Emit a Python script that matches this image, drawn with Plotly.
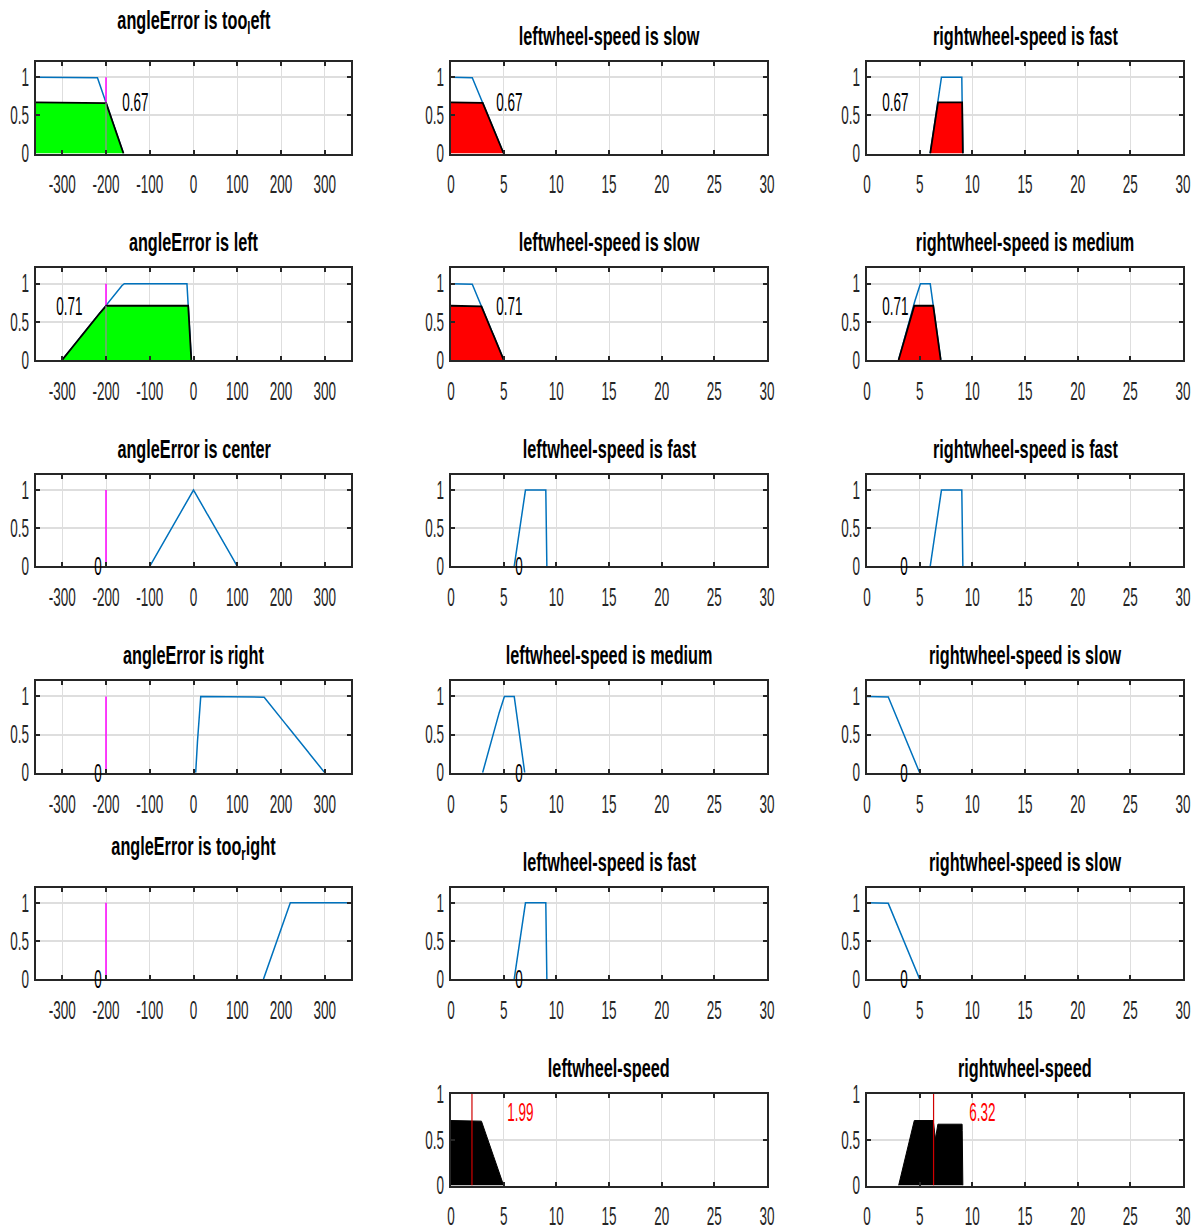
import numpy as np
import plotly.graph_objects as go

# ---- universes, ticks ----
angle_range = [-360, 360]
speed_range = [0, 30]
angle_ticks = [-300, -200, -100, 0, 100, 200, 300]
speed_ticks = [0, 5, 10, 15, 20, 25, 30]
grade_ticks = [0, 0.5, 1]

# ---- membership functions (trapezoid breakpoints a, b, c, d) ----
angle_too_left = [-400, -400, -220, -160]
angle_left = [-300, -160, -15, -5]
angle_center = [-100, 0, 0, 100]
angle_right = [5, 15, 160, 300]
angle_too_right = [160, 220, 400, 400]

speed_slow = [0, 0, 2, 5]
speed_medium = [3, 5, 6, 7]
speed_fast = [6, 7, 9, 9.1]

# ---- rule base ----
rule_angle_terms = ["too_left", "left", "center", "right", "too_right"]
rule_left_terms = ["slow", "slow", "fast", "medium", "fast"]
rule_right_terms = ["fast", "medium", "fast", "slow", "slow"]
rule_strength = [0.67, 0.71, 0, 0, 0]
strength_labels = ["0.67", "0.71", "0", "0", "0"]

angle_input = -200
left_output = 1.99
right_output = 6.32

# label anchor positions along x for each rule row
label_x_angle = [-133, -284, -218, -218, -218]
label_x_left = [5.6, 5.6, 6.5, 6.5, 6.5]
label_x_right = [2.66, 2.66, 3.5, 3.5, 3.5]
output_label_dx = 4.6

angle_mfs = {"too_left": angle_too_left, "left": angle_left, "center": angle_center,
             "right": angle_right, "too_right": angle_too_right}
speed_mfs = {"slow": speed_slow, "medium": speed_medium, "fast": speed_fast}

BLUE = "#0072BD"
FONT = "Liberation Sans, Arial, Helvetica, sans-serif"
TICK_COLOR = "#262626"
W, H = 1202, 1230


def trap(x, p):
    a, b, c, d = p
    if b > a:
        up = np.clip((x - a) / (b - a), 0, 1)
    else:
        up = (x >= a).astype(float)
    if d > c:
        down = np.clip((d - x) / (d - c), 0, 1)
    else:
        down = (x <= d).astype(float)
    return np.minimum(up, down)


def grid(rng, params):
    pts = [v for p in params for v in p if rng[0] <= v <= rng[1]]
    return np.unique(np.concatenate([np.linspace(rng[0], rng[1], 3001), pts]))


def support(x, y):
    # keep only the non-zero stretch plus one zero sample on each side
    nz = np.nonzero(y > 1e-9)[0]
    if len(nz) == 0:
        return x[:0], y[:0]
    i0 = max(nz[0] - 1, 0)
    i1 = min(nz[-1] + 1, len(x) - 1)
    return x[i0:i1 + 1], y[i0:i1 + 1]


def tex(s):
    # underscore subscripts one character, like the TeX interpreter
    out, i = "", 0
    while i < len(s):
        if s[i] == "_" and i + 1 < len(s):
            out += "<sub>" + s[i + 1] + "</sub>"
            i += 2
        else:
            out += s[i]
            i += 1
    return out


# panel geometry (pixels)
col_x = [(36, 351), (451, 767), (867, 1183)]
row_top0, row_step, row_h = 62, 206.4, 91.5

fig = go.Figure()
annotations = []
layout = {}
axis_n = 0


def add_axes(row, col, rng, ticks, yr):
    global axis_n
    axis_n += 1
    n = axis_n
    x0, x1 = col_x[col]
    top = row_top0 + row * row_step
    bot = top + row_h
    common = dict(showline=True, linecolor="#262626", linewidth=2, mirror="allticks",
                  ticks="inside", ticklen=4, tickwidth=2, tickcolor="#262626",
                  showgrid=True, gridcolor="#dedede", zeroline=False, tickangle=0,
                  automargin=False,
                  tickfont=dict(family=FONT, size=25, color=TICK_COLOR))
    layout["xaxis%d" % n] = dict(domain=[x0 / W, x1 / W], anchor="y%d" % n, range=rng,
                                 tickvals=ticks, ticktext=[str(t) for t in ticks],
                                 gridwidth=1, ticklabelstandoff=8, **common)
    layout["yaxis%d" % n] = dict(domain=[1 - bot / H, 1 - top / H], anchor="x%d" % n,
                                 range=yr, tickvals=grade_ticks,
                                 ticktext=["0", "0.5", "1"], gridwidth=2,
                                 ticklabelstandoff=0, **common)
    return n, (x0 + x1) / 2, top


def title(text, cx, top, dy=26):
    annotations.append(dict(text="<b>" + text + "</b>", x=cx / W, y=1 - (top - dy) / H,
                            xref="paper", yref="paper", showarrow=False,
                            xanchor="center", yanchor="middle",
                            font=dict(family=FONT, size=25, color="black")))


def line(n, x, y, color, width):
    fig.add_trace(go.Scatter(x=x, y=y, mode="lines", line=dict(color=color, width=width),
                             xaxis="x%d" % n, yaxis="y%d" % n, hoverinfo="skip"))


def area(n, x, y, fillcolor, width):
    fig.add_trace(go.Scatter(x=x, y=y, mode="lines", fill="tozeroy", fillcolor=fillcolor,
                             line=dict(color="black", width=width),
                             xaxis="x%d" % n, yaxis="y%d" % n, hoverinfo="skip"))


def label(n, text, x, y, color="black"):
    annotations.append(dict(text=text, x=x, y=y, xref="x%d" % n, yref="y%d" % n,
                            showarrow=False, font=dict(family=FONT, size=25, color=color)))


for r in range(5):
    level = rule_strength[r]
    # --- input column ---
    n, cx, top = add_axes(r, 0, angle_range, angle_ticks, [0, 1.2])
    term = rule_angle_terms[r]
    title("angleError is " + tex(term), cx, top, 40 if "_" in term else 26)
    xa = grid(angle_range, [angle_mfs[term], [angle_input]])
    mu = trap(xa, angle_mfs[term])
    line(n, *support(xa, mu), BLUE, 1.5)
    line(n, [angle_input, angle_input], [0, 1], "#FF00FF", 1.5)
    if level > 0:
        area(n, *support(xa, np.minimum(mu, level)), "#00FF00", 1.8)
        # input marker seen through the shaded region
        line(n, [angle_input, angle_input], [0, level], "#9C8A9C", 1.2)
    label(n, strength_labels[r], label_x_angle[r], level)

    # --- output columns ---
    for c, terms, lab_x, name in [(1, rule_left_terms, label_x_left, "leftwheel-speed"),
                                  (2, rule_right_terms, label_x_right, "rightwheel-speed")]:
        n, cx, top = add_axes(r, c, speed_range, speed_ticks, [0, 1.2])
        title(name + " is " + terms[r], cx, top)
        p = speed_mfs[terms[r]]
        xs = grid(speed_range, [p])
        mu = trap(xs, p)
        line(n, *support(xs, mu), BLUE, 1.5)
        if level > 0:
            area(n, *support(xs, np.minimum(mu, level)), "#FF0000", 1.8)
        label(n, strength_labels[r], lab_x[r], level)

# --- aggregated outputs ---
for c, terms, out, name in [(1, rule_left_terms, left_output, "leftwheel-speed"),
                            (2, rule_right_terms, right_output, "rightwheel-speed")]:
    n, cx, top = add_axes(5, c, speed_range, speed_ticks, [0, 1])
    title(name, cx, top)
    xs = grid(speed_range, list(speed_mfs.values()))
    agg = np.zeros_like(xs)
    for t, s in zip(terms, rule_strength):
        agg = np.maximum(agg, np.minimum(trap(xs, speed_mfs[t]), s))
    area(n, *support(xs, agg), "black", 1)
    line(n, [out, out], [0, 1], "#D00000", 1.2)
    label(n, "%.2f" % out, out + output_label_dx, 0.8, "#FF0000")

fig.update_layout(width=W, height=H, margin=dict(l=0, r=0, t=0, b=0, pad=0),
                  autosize=False,
                  paper_bgcolor="white", plot_bgcolor="white", showlegend=False,
                  annotations=annotations, **layout)

# condensed lettering: squeeze every svg text horizontally about its anchor
squeeze_js = """
document.documentElement.style.margin = '0';
document.body.style.margin = '0';
document.body.style.overflow = 'hidden';
(function () {
  var gd = document.getElementById('{plot_id}');
  function squeeze() {
    gd.querySelectorAll('svg text').forEach(function (t) {
      var tr = t.getAttribute('transform') || '';
      if (t.getAttribute('data-sq') === tr && tr !== '') return;
      var bold = t.querySelector('tspan[style*="bold"]') !== null;
      var sx = bold ? 0.65 : 0.54;
      var anchor = t.getAttribute('text-anchor') || getComputedStyle(t).textAnchor || 'start';
      var bb = t.getBBox();
      var ax = anchor === 'end' ? bb.x + bb.width : (anchor === 'middle' ? bb.x + bb.width / 2 : bb.x);
      var nt = tr + ' translate(' + ax + ',0) scale(' + sx + ',1) translate(' + (-ax) + ',0)';
      t.setAttribute('transform', nt);
      t.setAttribute('data-sq', nt);
    });
  }
  squeeze();
  gd.on('plotly_afterplot', squeeze);
})();
"""
fig.write_html("out.html", post_script=squeeze_js)
